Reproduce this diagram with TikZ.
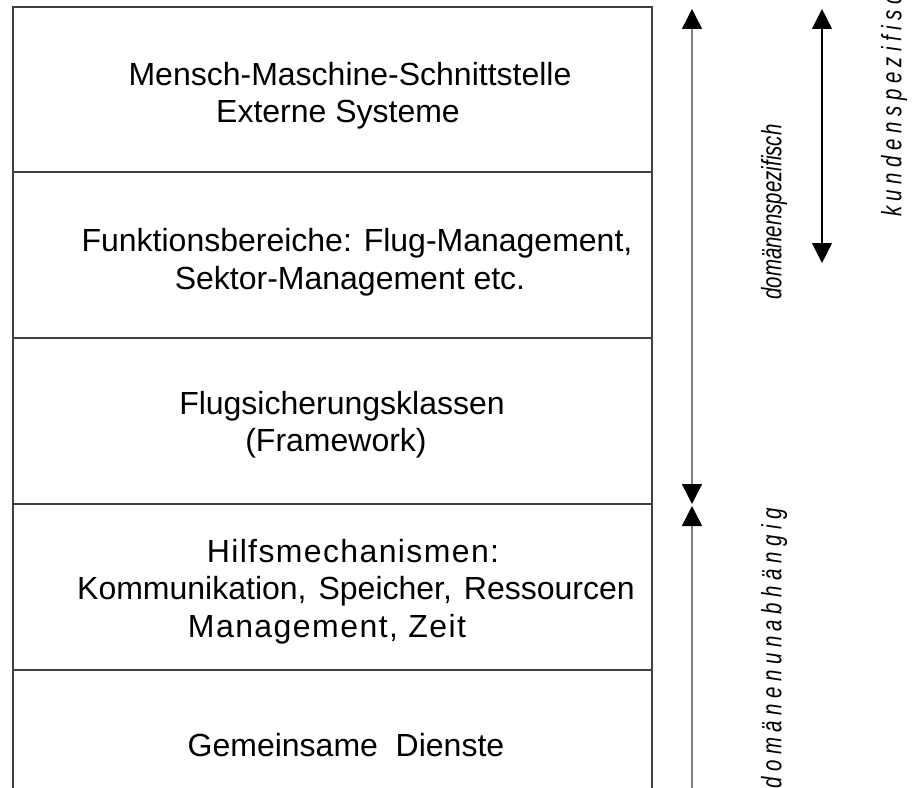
\documentclass[tikz,border=0pt]{standalone}
\usepackage{fontspec}
\setmainfont{Liberation Sans}
\usetikzlibrary{arrows.meta}
\definecolor{rule}{gray}{0.25}
\definecolor{shaft}{gray}{0.5}
\newcommand\narrow[1]{\scalebox{0.73}[1]{#1}}
\tikzset{
  layer/.style={draw=rule, line width=1.1pt, minimum width=479.25pt, inner sep=0pt},
  line/.style={anchor=base, inner sep=0pt, font=\fontsize{24}{28}\selectfont},
  side/.style={rotate=90, inner sep=0pt, font=\fontsize{21}{24}\selectfont\itshape},
  bigtip/.tip={Triangle[length=15pt, width=15pt, color=black]},
}
\begin{document}
\begin{tikzpicture}[x=0.75pt, y=-0.75pt]
\useasboundingbox (0,0) rectangle (917,788);
\clip (0,0) rectangle (917,788);

% the five layers of the architecture
\node[layer, minimum height=123.75pt] (l1) at (332.5, 89.5) {};
\node[layer, minimum height=124.5pt] (l2) at (332.5, 255) {};
\node[layer, minimum height=124.5pt] (l3) at (332.5, 421) {};
\node[layer, minimum height=124.5pt] (l4) at (332.5, 587) {};
\node[layer, minimum height=124.5pt] (l5) at (332.5, 753) {};

% layer captions, one node per printed line
\node[line] (t1a) at (350, 86) {Mensch-Maschine-Schnittstelle};
\node[line] (t1b) at (338, 123) {Externe Systeme};
\node[line] (t2a) at (357, 251) {Funktionsbereiche: Flug-Management,};
\node[line] (t2b) at (350, 289) {Sektor-Management etc.};
\node[line] (t3a) at (342, 414) {Flugsicherungsklassen};
\node[line] (t3b) at (336, 451) {(Framework)};
\node[line] (t4a) at (353, 562) {\addfontfeature{LetterSpace=4.3}Hilfsmechanismen:};
\node[line] (t4b) at (356, 599) {Kommunikation,\hspace{9pt}Speicher,\hspace{9pt}Ressourcen};
\node[line] (t4c) at (327, 637) {\addfontfeature{LetterSpace=4.5}Management, Zeit};
\node[line] (t5a) at (346, 756) {Gemeinsame\ \ Dienste};

% range arrows on the right
\coordinate (dsTop) at (692, 9);
\coordinate (dsBot) at (692, 504);
\coordinate (duTop) at (692, 506);
\coordinate (duBot) at (692, 800);
\coordinate (ksTop) at (822, 9);
\coordinate (ksBot) at (822, 263);
\draw[shaft, line width=1.1pt, {bigtip}-{bigtip}] (dsTop) -- (dsBot);
\draw[shaft, line width=1.1pt, {bigtip}-] (duTop) -- (duBot);
\draw[black, line width=0.9pt, {bigtip}-{bigtip}] (ksTop) -- (ksBot);

% range labels
\node[side] (ds) at (774, 212) {\narrow{domänenspezifisch}};
\node[side, anchor=east] (du) at (774, 508) {\narrow{\addfontfeature{LetterSpace=27}domänenunabhängig}};
\node[side, anchor=west] (ks) at (894, 217) {\narrow{\addfontfeature{LetterSpace=27}kundenspezifisch}};
\end{tikzpicture}
\end{document}
